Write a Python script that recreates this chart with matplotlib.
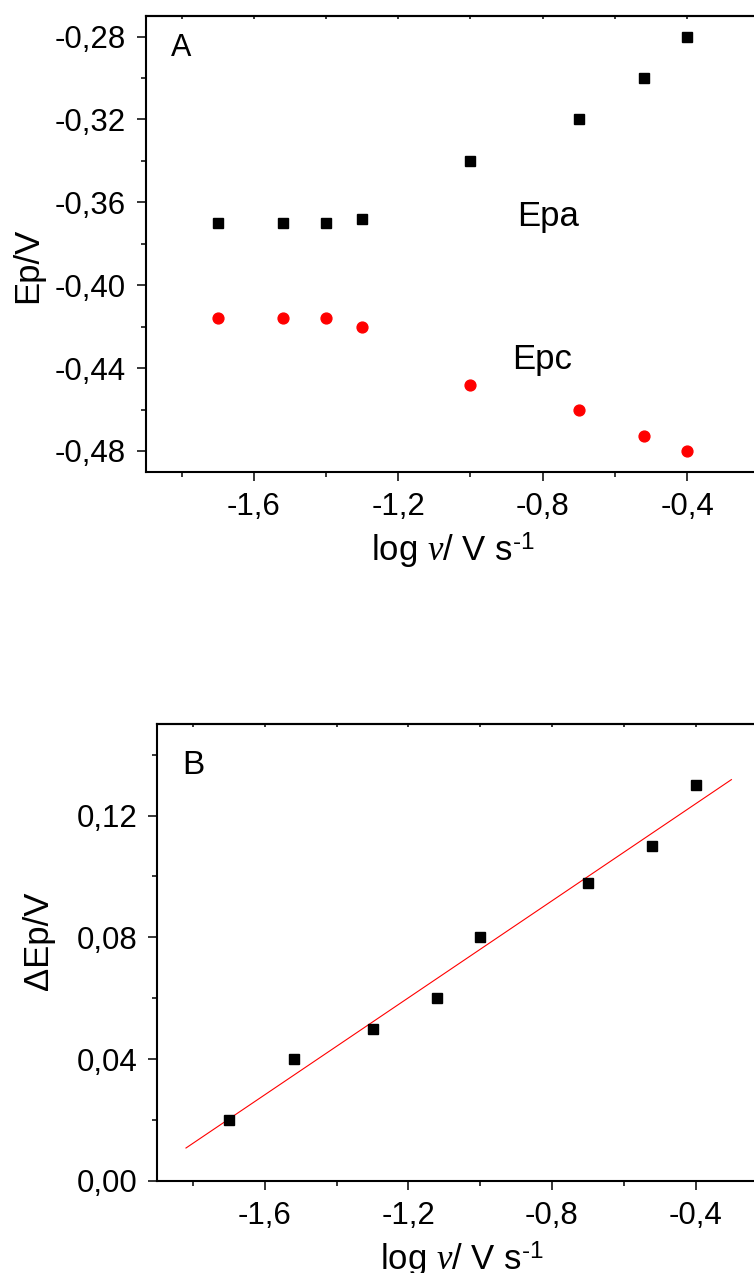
import numpy as np
import matplotlib
matplotlib.use("Agg")
import matplotlib.pyplot as plt
from matplotlib.ticker import MultipleLocator, FuncFormatter

plt.rcParams['font.family'] = ['Liberation Sans', 'DejaVu Sans']
plt.rcParams['mathtext.fontset'] = 'custom'
plt.rcParams['mathtext.rm'] = 'Liberation Sans'
plt.rcParams['mathtext.it'] = 'Liberation Serif:italic'

# panel A: peak potentials vs log scan rate
log_v_a = [-1.70, -1.52, -1.40, -1.30, -1.00, -0.70, -0.52, -0.40]
epa = [-0.370, -0.370, -0.370, -0.368, -0.340, -0.320, -0.300, -0.280]
epc = [-0.416, -0.416, -0.416, -0.420, -0.448, -0.460, -0.473, -0.480]

# panel B: peak separation
log_v_b = [-1.70, -1.52, -1.30, -1.12, -1.00, -0.70, -0.52, -0.40]
d_ep = [0.020, 0.040, 0.050, 0.060, 0.080, 0.098, 0.110, 0.130]
fit_x = [-1.82, -0.30]

xlabel = 'log $\\mathit{v}$/ V s$^{\\mathregular{\u20101}}$'


def fmt2(v, pos):
    return f"{v:.2f}".replace('.', ',')


def fmt1(v, pos):
    return f"{v:.1f}".replace('.', ',')


def style(ax, ymaj, ymin):
    for s in ['left', 'bottom', 'top', 'right']:
        ax.spines[s].set_linewidth(1.5)
    ax.set_xlim(-1.9, -0.2)
    ax.xaxis.set_major_locator(MultipleLocator(0.4))
    ax.xaxis.set_minor_locator(MultipleLocator(0.2))
    ax.yaxis.set_major_locator(MultipleLocator(ymaj))
    ax.yaxis.set_minor_locator(MultipleLocator(ymin))
    ax.xaxis.set_major_formatter(FuncFormatter(fmt1))
    ax.yaxis.set_major_formatter(FuncFormatter(fmt2))
    ax.tick_params(which='major', direction='out', length=6.5, width=1.1,
                   labelsize=22.5, pad=8)
    ax.tick_params(which='minor', direction='out', length=3.6, width=1.1)
    top = ax.secondary_xaxis('top')
    top.xaxis.set_major_locator(MultipleLocator(0.4))
    top.xaxis.set_minor_locator(MultipleLocator(0.2))
    top.tick_params(which='both', direction='in', length=2, width=1.1,
                    labeltop=False)
    top.spines['top'].set_linewidth(1.5)


fig = plt.figure(figsize=(7.54, 12.73), dpi=100)

axA = fig.add_axes([0.1932, 0.6295, 0.8137, 0.358])
axA.plot(log_v_a, epa, 's', color='black', ms=7.2)
axA.plot(log_v_a, epc, 'o', color='#ff0000', ms=7.8)
axA.set_ylim(-0.49, -0.27)
style(axA, 0.04, 0.02)
axA.set_ylabel('Ep/V', fontsize=25)
axA.yaxis.set_label_coords(-0.165, 0.452)
axA.set_xlabel(xlabel, fontsize=25, va='top')
axA.xaxis.set_label_coords(0.5, -0.130)
axA.text(-1.803, -0.2855, 'A', fontsize=22, ha='center', va='center')
axA.text(-0.784, -0.3715, 'Epa', fontsize=25, ha='center', va='baseline')
axA.text(-0.803, -0.4406, 'Epc', fontsize=25, ha='center', va='baseline')

axB = fig.add_axes([0.2086, 0.0723, 0.809, 0.3588])
k, b = np.polyfit(log_v_b, d_ep, 1)
fx = np.array(fit_x)
axB.plot(fx, k * fx + b, '-', color='#ff0000', lw=0.8)
axB.plot(log_v_b, d_ep, 's', color='black', ms=7.2)
axB.set_ylim(0.0, 0.15)
style(axB, 0.04, 0.02)
axB.set_ylabel('\u0394Ep/V', fontsize=25)
axB.yaxis.set_label_coords(-0.167, 0.526)
axB.set_xlabel(xlabel, fontsize=25, va='top')
axB.xaxis.set_label_coords(0.5, -0.130)
axB.text(-1.80, 0.1363, 'B', fontsize=24, ha='center', va='center')

fig.savefig('out.png', dpi=100)
